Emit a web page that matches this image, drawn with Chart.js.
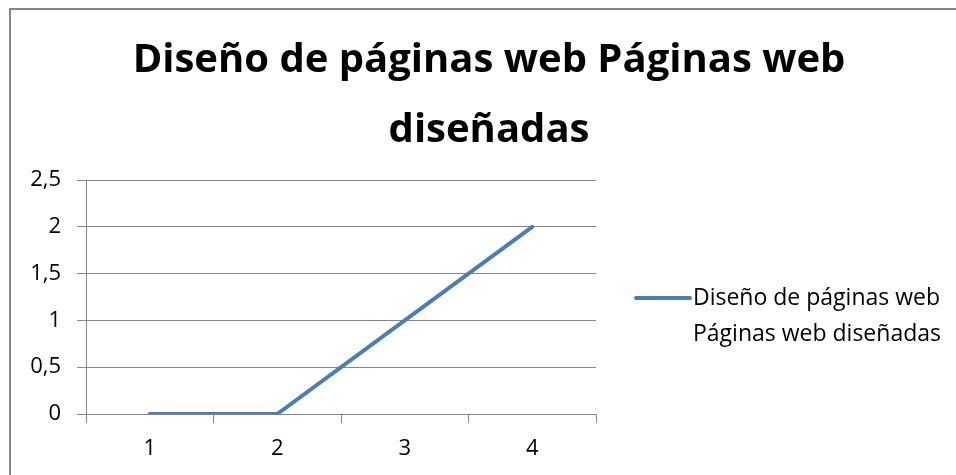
<!DOCTYPE html>
<html>
<head>
<meta charset="utf-8">
<script src="https://cdn.jsdelivr.net/npm/chart.js@4.4.1/dist/chart.umd.min.js"></script>
<style>
  html, body { margin: 0; padding: 0; background: #fff; overflow: hidden; }
  #wrap { position: relative; width: 956px; height: 475px; }
  #frame { position: absolute; left: 9px; top: 8px; width: 1000px; height: 500px;
           border-left: 2px solid #868686; border-top: 2px solid #868686; pointer-events: none; }
</style>
</head>
<body>
<div id="wrap">
  <canvas id="chart"></canvas>
  <div id="frame"></div>
</div>
<script>
const titleLines = ["Diseño de páginas web Páginas web", "diseñadas"];
const categories = ["1", "2", "3", "4"];
const seriesValues = [0, 0, 1, 2];
const legendLines = ["Diseño de páginas web", "Páginas web diseñadas"];
const yTicks = [0, 0.5, 1, 1.5, 2, 2.5];

const FONT = "'Open Sans', sans-serif";
const GRID = "#868686";

// legend drawn by hand so the label can wrap on two lines like in Excel
const sideLegend = {
  id: "sideLegend",
  afterDraw(chart) {
    const ctx = chart.ctx;
    const ds = chart.data.datasets[0];
    const x0 = 636, y0 = 298;
    ctx.save();
    ctx.strokeStyle = ds.borderColor;
    ctx.lineWidth = 4;
    ctx.lineCap = "round";
    ctx.beginPath();
    ctx.moveTo(x0, y0);
    ctx.lineTo(x0 + 54, y0);
    ctx.stroke();
    ctx.fillStyle = "#000";
    ctx.font = "23px " + FONT;
    ctx.textBaseline = "middle";
    legendLines.forEach((t, i) => ctx.fillText(t, x0 + 57, y0 + i * 36));
    ctx.restore();
  }
};

const ctx = document.getElementById("chart").getContext("2d");
new Chart(ctx, {
  type: "line",
  data: {
    labels: categories,
    datasets: [{
      label: legendLines.join(" "),
      data: seriesValues,
      borderColor: "#4a7ebb",
      borderWidth: 4,
      borderCapStyle: "round",
      pointRadius: 0,
      tension: 0,
      yAxisID: "y"
    }]
  },
  options: {
    responsive: true,
    maintainAspectRatio: false,
    animation: false,
    layout: { padding: { left: 22, top: 10, right: 0, bottom: 0 } },
    plugins: {
      legend: { display: false },
      tooltip: { enabled: false },
      title: {
        display: true,
        text: titleLines,
        color: "#000",
        font: { family: FONT, size: 40, weight: "bold", lineHeight: 1.75 },
        padding: { top: 16, bottom: 14 }
      }
    },
    scales: {
      x: {
        offset: true,
        grid: { offset: true, drawOnChartArea: false, drawTicks: true, tickLength: 9, color: GRID },
        border: { color: GRID, width: 1 },
        ticks: { color: "#000", font: { family: FONT, size: 22 }, padding: 13 },
        afterFit(s) { s.height = 61; }
      },
      y: {
        min: 0,
        max: 2.5,
        afterBuildTicks(s) { s.ticks = yTicks.map(v => ({ value: v })); },
        grid: { color: GRID, tickLength: 9 },
        border: { color: GRID, width: 1 },
        ticks: {
          color: "#000",
          font: { family: FONT, size: 22 },
          padding: 16,
          callback: v => String(v).replace(".", ",")
        },
        afterFit(s) { s.width = 64; }
      },
      side: {
        position: "right",
        min: 0,
        max: 1,
        grid: { display: false },
        border: { display: false },
        ticks: { display: false },
        afterFit(s) { s.width = 360; }
      }
    }
  },
  plugins: [sideLegend]
});
</script>
</body>
</html>
